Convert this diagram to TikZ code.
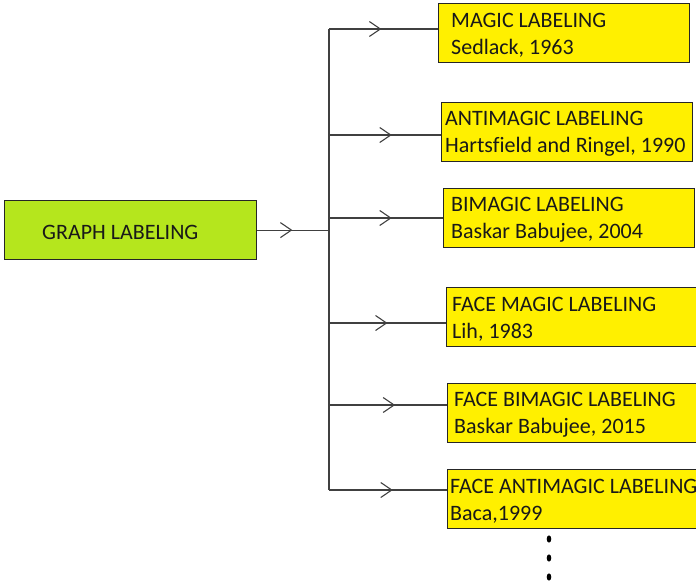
\documentclass[tikz,border=0pt]{standalone}
\usepackage{fontspec}
\setmainfont{Carlito}[Ligatures=NoCommon]
\usetikzlibrary{positioning,arrows.meta,decorations.markings}
\definecolor{box_yellow}{HTML}{FFF000}
\definecolor{box_green}{HTML}{B5E61D}
\definecolor{line_grey}{HTML}{404040}

\tikzset{
  ybox/.style={draw=black!85, line width=1.2pt, fill=box_yellow, minimum width=251pt, minimum height=59pt, inner sep=0pt, anchor=north west},
  gbox/.style={draw=black!85, line width=1.2pt, fill=box_green, minimum width=252pt, minimum height=59pt, inner sep=0pt, anchor=north west},
  btext/.style={inner sep=0pt, align=left, font=\fontsize{22}{27}\selectfont, text=black!90, yshift=-2pt},
  link/.style={line_grey, line width=1.1pt},
  midarrow/.style={postaction={decorate}, decoration={markings, mark=at position #1 with {\arrow{Straight Barb[length=11pt,width=15pt]}}}}
}

\begin{document}
\begin{tikzpicture}[x=1pt,y=-1pt]
        % Cadre
        \useasboundingbox (0,0) rectangle (696,584);

        % Boite principale
        \node[gbox] (g) at (4,200) {};
        \node[btext, right=38pt of g.west] (gt) {GRAPH LABELING};

        % Boites jaunes et branches
        \foreach \i/\x/\y/\by/\dx/\pos/\title/\auteur in {1/438/3/29/13/0.48/MAGIC LABELING/{Sedlack, 1963}, 2/441/102/135/4/0.56/ANTIMAGIC LABELING/{Hartsfield and Ringel, 1990}, 3/443/188/218/8/0.55/BIMAGIC LABELING/{Baskar Babujee, 2004}, 4/446/287/323/6/0.5/FACE MAGIC LABELING/{Lih, 1983}, 5/447/383/405/7/0.56/FACE BIMAGIC LABELING/{Baskar Babujee, 2015}, 6/447/469/490/3/0.54/FACE ANTIMAGIC LABELING/{Baca,1999}} {
        % Boite
        \node[ybox] (b\i) at (\x,\y) {};
        % Texte
        \node[btext, right=\dx pt of b\i.west] (l\i) {\title\\\auteur};
        % Depart sur le tronc
        \coordinate (s\i) at (329,\by);
        % Branche
        \draw[link, midarrow=\pos] (s\i) -- (s\i -| b\i.west);
        }

        % Tronc vertical
        \draw[link] (s1) -- (s6);
        % Liaison principale
        \draw[link, midarrow=0.49] (g.east) -- (g.east -| s1);

        % Points de suite
        \foreach \d in {539,558,577} {
        \fill (549,\d) ellipse (2.3pt and 3.6pt);
        }
\end{tikzpicture}
\end{document}
